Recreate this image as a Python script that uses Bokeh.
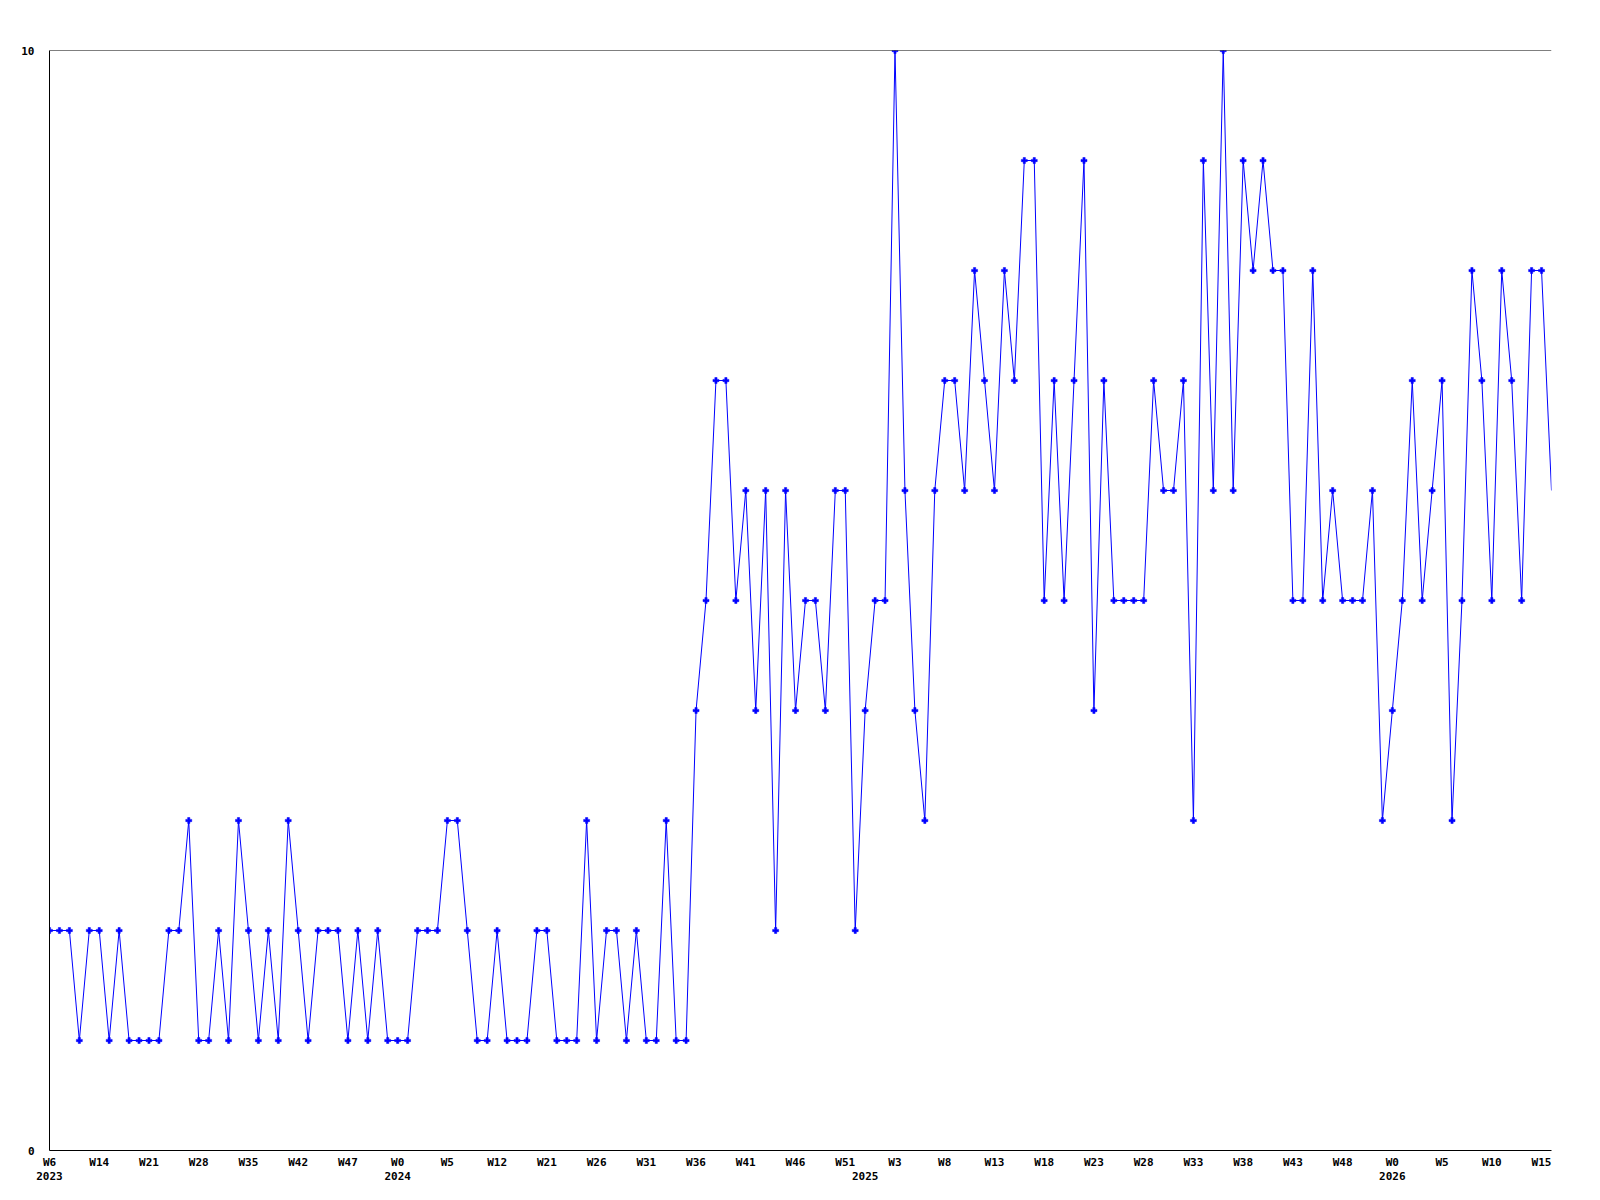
from bokeh.plotting import figure
from bokeh.models import Range1d, FixedTicker, LinearAxis, Span, ColumnDataSource
from bokeh.embed import file_html
from bokeh.resources import INLINE

# ---- data ----
values = [2,2,2,1,2,2,1,2,1,1, 1,1,2,2,3,1,1,2,1,3,
          2,1,2,1,3,2,1,2,2,2, 1,2,1,2,1,1,1,2,2,2,
          3,3,2,1,1,2,1,1,1,2, 2,1,1,1,3,1,2,2,1,2,
          1,1,3,1,1,4,5,7,7,5, 6,4,6,2,6,4,5,5,4,6,
          6,2,4,5,5,10,6,4,3,6, 7,7,6,8,7,6,8,7,9,9,
          5,7,5,7,9,4,7,5,5,5, 5,7,6,6,7,3,9,6,10,6,
          9,8,9,8,8,5,5,8,5,6, 5,5,5,6,3,4,5,7,5,6,
          7,3,5,8,7,5,8,7,5,8, 8,6]
week_labels = ["W6","W14","W21","W28","W35","W42","W47","W0","W5","W12",
               "W21","W26","W31","W36","W41","W46","W51","W3","W8","W13",
               "W18","W23","W28","W33","W38","W43","W48","W0","W5","W10","W15"]
label_every = 5
year_labels = ["2023", "2024", "2025", "2026"]
year_index = [0, 35, 82, 135]
y_ticks = [0, 10]

idx = list(range(len(values)))
week_ticks = idx[::label_every][:len(week_labels)]

FONT = "DejaVu Sans Mono"
FS = "11px"
BLUE = "#0000ff"

p = figure(width=1592, height=1192, output_backend="svg", toolbar_location=None,
           x_range=Range1d(0, len(values) - 1), y_range=Range1d(min(y_ticks), max(y_ticks)),
           min_border_left=49, min_border_right=41, min_border_top=50, min_border_bottom=42,
           background_fill_color="white", border_fill_color="white")
p.outline_line_color = None
p.grid.visible = False

src = ColumnDataSource(dict(x=idx, y=values))
p.line("x", "y", source=src, line_color=BLUE, line_width=1)
msrc = ColumnDataSource(dict(x=idx[:-1], y=values[:-1]))
p.scatter("x", "y", source=msrc, marker="plus", size=6, fill_color=BLUE, line_color=BLUE, line_width=0.5)

p.add_layout(Span(location=max(y_ticks), dimension="width", line_color="black", line_width=1))

def style(ax):
    ax.major_tick_in = 0
    ax.major_tick_out = 0
    ax.minor_tick_in = 0
    ax.minor_tick_out = 0
    ax.axis_line_color = "black"
    ax.axis_line_width = 1
    ax.major_label_text_font = FONT
    ax.major_label_text_font_size = FS
    ax.major_label_text_font_style = "bold"
    ax.major_label_text_color = "black"

xa = p.xaxis[0]
style(xa)
xa.ticker = FixedTicker(ticks=week_ticks)
xa.major_label_overrides = {t: l for t, l in zip(week_ticks, week_labels)}
xa.major_label_standoff = 5

ya = p.yaxis[0]
style(ya)
ya.ticker = FixedTicker(ticks=y_ticks)
ya.major_label_overrides = {t: str(t) for t in y_ticks}
ya.major_label_standoff = 15

yr = LinearAxis(ticker=FixedTicker(ticks=year_index),
                major_label_overrides={t: l for t, l in zip(year_index, year_labels)})
style(yr)
yr.axis_line_color = None
yr.major_label_standoff = 0
p.add_layout(yr, "below")

open("out.html", "w").write(file_html(p, INLINE))
